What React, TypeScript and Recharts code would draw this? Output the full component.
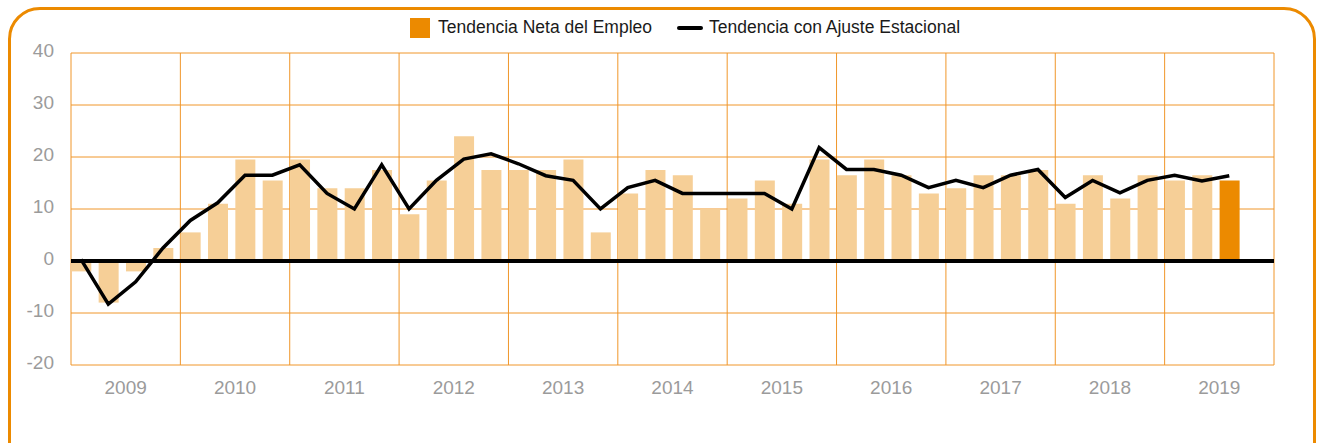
import { Bar, CartesianGrid, Cell, ComposedChart, Legend, Line, ReferenceLine, XAxis, YAxis } from "recharts";

const years = ["2009", "2010", "2011", "2012", "2013", "2014", "2015", "2016", "2017", "2018", "2019"];
const quarters = ["T1", "T2", "T3", "T4"];

// Tendencia Neta del Empleo, one value per quarter (2009 T1 .. 2019 T3)
const netTrend = [
  -2, -8, -2, 2.5,
  5.5, 11, 19.5, 15.5,
  19.5, 14, 14, 17.5,
  9, 15.5, 24, 17.5,
  17.5, 17.5, 19.5, 5.5,
  13, 17.5, 16.5, 10,
  12, 15.5, 11, 19.5,
  16.5, 19.5, 16.5, 13,
  14, 16.5, 16.5, 17.5,
  11, 16.5, 12, 16.5,
  15.5, 16.5, 15.5,
];

// Tendencia con Ajuste Estacional
const seasonalTrend = [
  0.3, -8.3, -4, 2.5,
  7.8, 11.2, 16.5, 16.5,
  18.5, 13, 10, 18.5,
  10, 15.5, 19.6, 20.6,
  18.7, 16.4, 15.5, 10,
  14.1, 15.5, 13, 13,
  13, 13, 10, 21.8,
  17.6, 17.6, 16.5, 14.1,
  15.5, 14.1, 16.5, 17.6,
  12.2, 15.5, 13.1, 15.5,
  16.5, 15.4, 16.4,
];

const yTicks = [-20, -10, 0, 10, 20, 30, 40];

const NET_NAME = "Tendencia Neta del Empleo";
const ADJ_NAME = "Tendencia con Ajuste Estacional";

const ORANGE = "#EC8A00";
const LIGHT = "#F6CF97";
const GRID = "#F0962A";
const FONT = "'Liberation Sans', Arial, sans-serif";

const data = years.flatMap((year, y) =>
  quarters.map((q, i) => {
    const k = y * 4 + i;
    return {
      period: `${q} ${year}`,
      year,
      net: k < netTrend.length ? netTrend[k] : null,
      adjusted: k < seasonalTrend.length ? seasonalTrend[k] : null,
    };
  })
);
const lastIndex = netTrend.length - 1;

function ChartLegend() {
  return (
    <div style={{ display: "flex", alignItems: "center", fontFamily: FONT, fontSize: 17.5, color: "#1a1a1a" }}>
      <span style={{ width: 20, height: 20, background: ORANGE, marginRight: 8 }} />
      <span>{NET_NAME}</span>
      <span style={{ width: 26, height: 4, background: "#000", borderRadius: 2, marginLeft: 25, marginRight: 6 }} />
      <span>{ADJ_NAME}</span>
    </div>
  );
}

export default function App() {
  return (
    <div style={{ position: "absolute", left: 0, top: 0, width: 1322, height: 443, overflow: "hidden", background: "#fff" }}>
      <div
        style={{
          position: "absolute",
          left: 8,
          top: 7,
          width: 1308,
          height: 470,
          boxSizing: "border-box",
          border: `3px solid ${ORANGE}`,
          borderRadius: 32,
        }}
      />
      <ComposedChart
        width={1322}
        height={443}
        data={data}
        margin={{ top: 53, right: 48, bottom: 48, left: 0 }}
        style={{ position: "absolute", left: 0, top: 0 }}
      >
        <CartesianGrid
          xAxisId="year"
          stroke={GRID}
          strokeWidth={1}
          verticalCoordinatesGenerator={({ offset }: any) =>
            Array.from({ length: years.length + 1 }, (_, k) => offset.left + (k * offset.width) / years.length)
          }
        />
        <XAxis dataKey="period" hide height={0} padding={{ left: -3.7, right: 3.7 }} />
        <XAxis
          xAxisId="year"
          dataKey="year"
          allowDuplicatedCategory={false}
          axisLine={false}
          tickLine={false}
          tickSize={0}
          tickMargin={16}
          interval={0}
          tick={{ fill: "#9b9b9b", fontSize: 19, fontFamily: FONT }}
        />
        <YAxis
          width={71}
          domain={[-20, 40]}
          ticks={yTicks}
          interval={0}
          axisLine={false}
          tickLine={false}
          tickSize={0}
          tickMargin={17}
          tick={{ fill: "#9b9b9b", fontSize: 19, fontFamily: FONT, dy: -3 }}
        />
        <Legend
          layout="vertical"
          align="center"
          verticalAlign="middle"
          content={() => <ChartLegend />}
          wrapperStyle={{ left: 410, top: 17, width: 600, height: 24 }}
        />
        <Bar dataKey="net" name={NET_NAME} fill={LIGHT} barSize={20} isAnimationActive={false}>
          {data.map((_, i) => (
            <Cell key={i} fill={i === lastIndex ? ORANGE : LIGHT} />
          ))}
        </Bar>
        <ReferenceLine y={0} stroke="#000" strokeWidth={4} />
        <Line
          dataKey="adjusted"
          name={ADJ_NAME}
          type="linear"
          stroke="#000"
          strokeWidth={3.5}
          dot={false}
          activeDot={false}
          isAnimationActive={false}
        />
      </ComposedChart>
    </div>
  );
}
